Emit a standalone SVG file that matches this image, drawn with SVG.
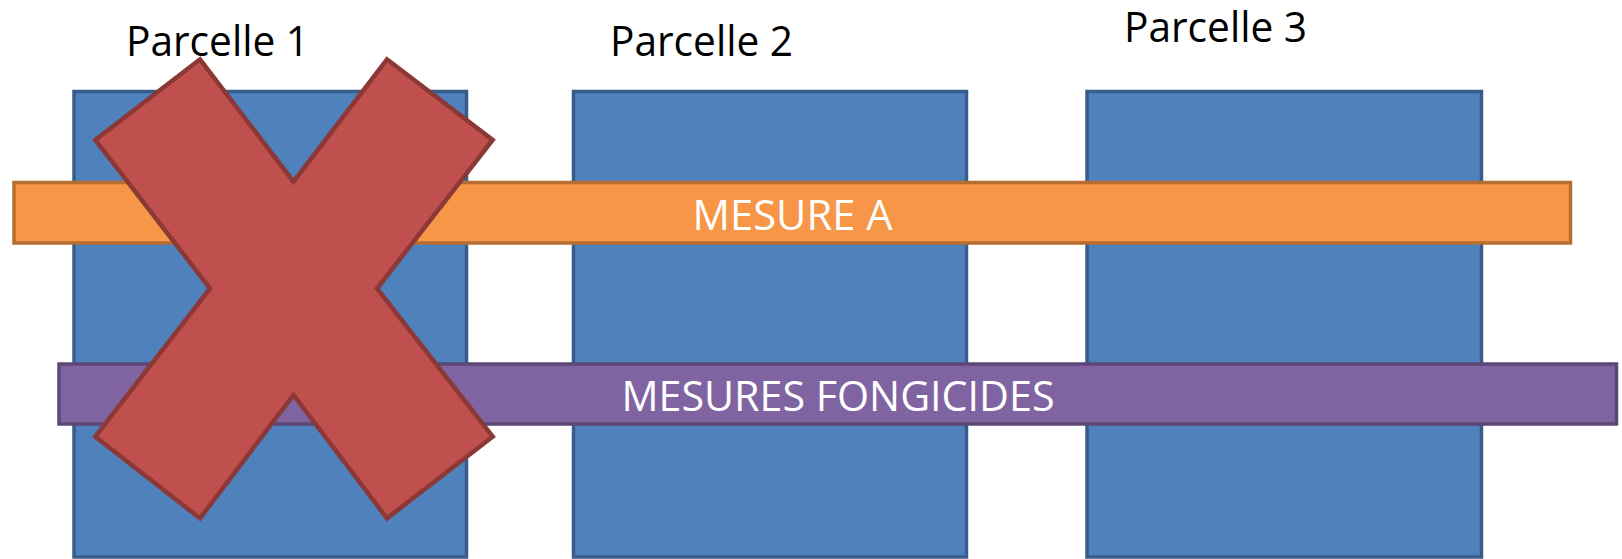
<svg xmlns="http://www.w3.org/2000/svg" width="1622" height="559" viewBox="0 0 1622 559">
<style>
.parcel{fill:#4F81BD;stroke:#385D8A;stroke-width:3.5}
.lbl{font-family:"Open Sans","Liberation Sans",sans-serif;font-size:42px;fill:#000}
.barA{fill:#F79646;stroke:#B66D31;stroke-width:3.5}
.barF{fill:#8064A2;stroke:#5C4776;stroke-width:3.5}
.bt{font-family:"Open Sans","Liberation Sans",sans-serif;font-size:42px;fill:#fff}
.cross{fill:#C0504D;stroke:#8C3836;stroke-width:4.5;stroke-linejoin:miter}
</style>
<rect width="1622" height="559" fill="#fff"/>
<g id="parcelle1">
<rect class="parcel" x="74" y="91.5" width="392.5" height="465.5"/>
<text class="lbl" x="126" y="56" textLength="183" lengthAdjust="spacingAndGlyphs">Parcelle 1</text>
</g>
<g id="parcelle2">
<rect class="parcel" x="573.5" y="91.5" width="393" height="465.5"/>
<text class="lbl" x="610" y="56" textLength="183" lengthAdjust="spacingAndGlyphs">Parcelle 2</text>
</g>
<g id="parcelle3">
<rect class="parcel" x="1087" y="91.5" width="394.5" height="465.5"/>
<text class="lbl" x="1124" y="42" textLength="183" lengthAdjust="spacingAndGlyphs">Parcelle 3</text>
</g>
<g id="mesure-a">
<rect class="barA" x="14" y="182.5" width="1556.5" height="60.5"/>
<text class="bt" x="692.5" y="230" textLength="200" lengthAdjust="spacingAndGlyphs">MESURE A</text>
</g>
<g id="mesures-fongicides">
<rect class="barF" x="59" y="364" width="1557.5" height="60"/>
<text class="bt" x="621.5" y="410.5" textLength="433" lengthAdjust="spacingAndGlyphs">MESURES FONGICIDES</text>
</g>
<g id="croix">
<polygon class="cross" points="200,59.3 293.5,181.7 387,59.3 492.7,140 377,288.5 492.7,436.7 387,518.3 293.5,395 200,518.3 95.3,436.7 210,288.5 95.3,140"/>
</g>
<g id="connectors"></g>
</svg>
